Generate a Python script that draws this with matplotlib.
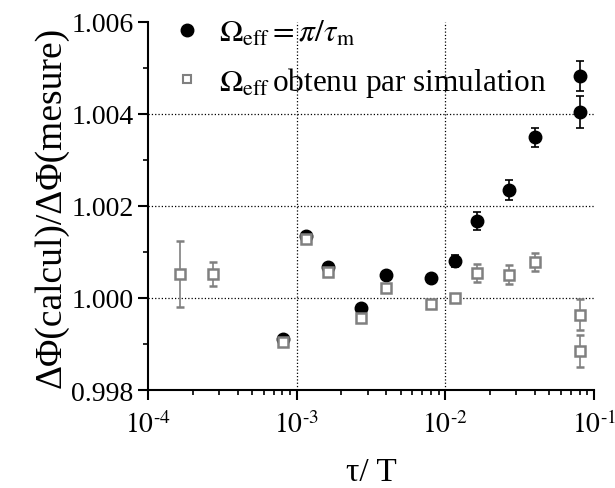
import numpy as np
import matplotlib
matplotlib.use("Agg")
from matplotlib import pyplot as plt
from matplotlib.lines import Line2D
from matplotlib.ticker import LogLocator, MultipleLocator, FormatStrFormatter

plt.rcParams['font.family'] = ['Liberation Serif', 'DejaVu Serif']
plt.rcParams['mathtext.fontset'] = 'stix'

# Omega_eff = pi / tau_m (filled circles)
x_circ = [8.07e-4, 1.16e-3, 1.62e-3, 2.70e-3, 4.0e-3, 8.05e-3, 1.157e-2,
          1.62e-2, 2.70e-2, 3.99e-2, 8.0e-2, 8.0e-2]
y_circ = [0.99911, 1.00135, 1.00067, 0.99978, 1.00050, 1.00044, 1.00080,
          1.00167, 1.00235, 1.00349, 1.00483, 1.00405]
err_circ = [0.00004, 0.00006, 0.00003, 0.00004, 0.00003, 0.00005, 0.00013,
            0.00020, 0.00021, 0.00021, 0.00033, 0.00035]

# Omega_eff obtenu par simulation (open squares)
x_sq = [1.63e-4, 2.73e-4, 8.07e-4, 1.16e-3, 1.62e-3, 2.70e-3, 4.0e-3,
        8.05e-3, 1.157e-2, 1.62e-2, 2.70e-2, 3.99e-2, 8.0e-2, 8.0e-2]
y_sq = [1.00052, 1.00052, 0.99905, 1.00128, 1.00056, 0.99957, 1.00022,
        0.99987, 0.99999, 1.00054, 1.00051, 1.00078, 0.99964, 0.99885]
err_sq = [0.00071, 0.00026, 0.00003, 0.00007, 0.00003, 0.00004, 0.00003,
          0.00004, 0.00006, 0.00020, 0.00020, 0.00020, 0.00034, 0.00034]

xticks = [1e-4, 1e-3, 1e-2, 1e-1]
xticklabels = [r'$10^{\text{-}4}$', r'$10^{\text{-}3}$',
               r'$10^{\text{-}2}$', r'$10^{\text{-}1}$']
grid_x = [1e-3, 1e-2]
grid_y = [1.000, 1.002, 1.004]

GREY = '#808080'

fig = plt.figure(figsize=(6.15, 4.89), dpi=100)
ax = fig.add_axes([0.2407, 0.2004, 0.7252, 0.7526])

for gx in grid_x:
    ax.axvline(gx, color='black', ls=':', lw=0.9, zorder=0)
for gy in grid_y:
    ax.axhline(gy, color='black', ls=':', lw=0.9, zorder=0)

ax.errorbar(x_circ, y_circ, yerr=err_circ, fmt='o', color='black',
            ms=9, ecolor='black', elinewidth=1.2, capsize=3, capthick=1.2,
            zorder=3)
ax.errorbar(x_sq, y_sq, yerr=err_sq, fmt='s', mfc='white', mec=GREY,
            mew=1.8, ms=7, ecolor=GREY, elinewidth=1.2, capsize=3,
            capthick=1.2, zorder=4)

ax.set_xscale('log')
ax.set_xlim(1e-4, 1e-1)
ax.set_ylim(0.998, 1.006)
ax.set_xticks(xticks)
ax.set_xticklabels(xticklabels)
ax.xaxis.set_minor_locator(LogLocator(base=10, subs=np.arange(2, 10)))
ax.xaxis.set_minor_formatter(plt.NullFormatter())
ax.yaxis.set_major_locator(MultipleLocator(0.002))
ax.yaxis.set_minor_locator(MultipleLocator(0.001))
ax.yaxis.set_major_formatter(FormatStrFormatter('%.3f'))

for s in ['top', 'right']:
    ax.spines[s].set_visible(False)
for s in ['left', 'bottom']:
    ax.spines[s].set_linewidth(1.5)

ax.tick_params(axis='both', which='major', direction='out', length=7, width=1.5)
ax.tick_params(axis='both', which='minor', direction='out', length=3.5, width=1.2)
ax.tick_params(axis='y', labelsize=20, pad=3.5)
ax.tick_params(axis='x', labelsize=20, pad=8)

ax.set_ylabel('ΔΦ(calcul)/ΔΦ(mesure)', fontsize=27, labelpad=2)
ax.set_xlabel('τ/ T', fontsize=24, labelpad=13)

handles = [
    Line2D([], [], ls='none', marker='o', color='black', ms=9),
    Line2D([], [], ls='none', marker='s', mfc='white', mec=GREY, mew=1.5, ms=6),
]
labels = [r'$\Omega_{\rm eff} = \pi/\tau_{\rm m}$',
          r'$\Omega_{\rm eff}\,$obtenu par simulation']
ax.legend(handles, labels, loc='upper left', bbox_to_anchor=(-0.01, 1.085),
          frameon=False, fontsize=22.5, handletextpad=0.5, labelspacing=0.55,
          handlelength=1.0)

fig.savefig('out.png', dpi=100)
